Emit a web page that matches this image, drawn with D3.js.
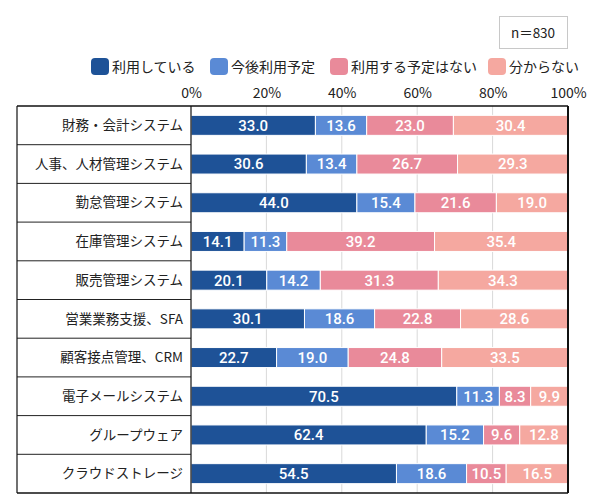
<!DOCTYPE html>
<html>
<head>
<meta charset="utf-8">
<script src="https://cdn.jsdelivr.net/npm/d3@7"></script>
<style>
  body { margin: 0; background: #fff; }
  svg { display: block; }
</style>
</head>
<body>
<svg id="chart"></svg>
<script>
// データ
const categories = ["財務・会計システム", "人事、人材管理システム", "勤怠管理システム", "在庫管理システム",
    "販売管理システム", "営業業務支援、SFA", "顧客接点管理、CRM", "電子メールシステム",
    "グループウェア", "クラウドストレージ"];
const seriesNames = ["利用している", "今後利用予定", "利用する予定はない", "分からない"];
const using = [33.0, 30.6, 44.0, 14.1, 20.1, 30.1, 22.7, 70.5, 62.4, 54.5];
const planned = [13.6, 13.4, 15.4, 11.3, 14.2, 18.6, 19.0, 11.3, 15.2, 18.6];
const noPlan = [23.0, 26.7, 21.6, 39.2, 31.3, 22.8, 24.8, 8.3, 9.6, 10.5];
const unknown = [30.4, 29.3, 19.0, 35.4, 34.3, 28.6, 33.5, 9.9, 12.8, 16.5];
const tickValues = [0, 20, 40, 60, 80, 100];
const colors = ["#1e5297", "#5a8ad5", "#e98a9a", "#f5a8a0"];

const width = 590, height = 501;
const labelLeft = 17;
const plotLeft = 191, plotRight = 568;
const plotTop = 106, plotBottom = 493;
const barH = 20;
const font = "'Noto Sans CJK JP', 'Noto Sans', sans-serif";

const svg = d3.select("#chart")
    .attr("width", width)
    .attr("height", height);

const x = d3.scaleLinear().domain([0, 100]).range([plotLeft, plotRight]);
const y = d3.scaleBand().domain(categories).range([plotTop, plotBottom]);

// 積み上げ用の行データ
const rows = categories.map((c, i) => ({
    cat: c,
    [seriesNames[0]]: using[i],
    [seriesNames[1]]: planned[i],
    [seriesNames[2]]: noPlan[i],
    [seriesNames[3]]: unknown[i]
}));
const stacked = d3.stack().keys(seriesNames)(rows);

// グリッド線
svg.append("g")
    .selectAll("line")
    .data(tickValues.filter(d => d > 0 && d < 100))
    .join("line")
    .attr("x1", d => x(d)).attr("x2", d => x(d))
    .attr("y1", plotTop).attr("y2", plotBottom)
    .attr("stroke", "#d9d9d9")
    .attr("stroke-width", 1);

// 上の目盛り
const axisTop = d3.axisTop(x)
    .tickValues(tickValues)
    .tickFormat(d => d + "%")
    .tickSize(0)
    .tickPadding(0);
svg.append("g")
    .attr("transform", `translate(0, ${plotTop - 5})`)
    .call(axisTop)
    .call(g => g.select(".domain").remove())
    .selectAll("text")
    .attr("dy", "-0.2em")
    .style("font-family", font)
    .style("font-size", "14px")
    .style("fill", "#222");

// 棒
const layer = svg.append("g")
    .selectAll("g")
    .data(stacked)
    .join("g")
    .attr("fill", (d, i) => colors[i]);

layer.selectAll("rect")
    .data(d => d)
    .join("rect")
    .attr("x", d => x(d[0]))
    .attr("y", d => y(d.data.cat) + (y.bandwidth() - barH) / 2)
    .attr("width", d => x(d[1]) - x(d[0]))
    .attr("height", barH)
    .attr("stroke", "#fff")
    .attr("stroke-width", 1);

layer.selectAll("text")
    .data(d => d)
    .join("text")
    .attr("x", d => (x(d[0]) + x(d[1])) / 2)
    .attr("y", d => y(d.data.cat) + y.bandwidth() / 2)
    .attr("dy", "0.36em")
    .attr("text-anchor", "middle")
    .style("font-family", "Roboto, sans-serif")
    .style("font-weight", 500)
    .style("font-size", "15px")
    .style("fill", "#fff")
    .text(d => (d[1] - d[0]).toFixed(1));

// 項目名の枠
svg.append("g")
    .selectAll("line")
    .data(categories.slice(1))
    .join("line")
    .attr("x1", labelLeft).attr("x2", plotLeft)
    .attr("y1", d => y(d)).attr("y2", d => y(d))
    .attr("stroke", "#222");

svg.append("g")
    .selectAll("text")
    .data(categories)
    .join("text")
    .attr("x", plotLeft - 8)
    .attr("y", d => y(d) + y.bandwidth() / 2)
    .attr("dy", "0.35em")
    .attr("text-anchor", "end")
    .style("font-family", font)
    .style("font-size", "13.5px")
    .style("fill", "#222")
    .text(d => d);

// 外枠
svg.append("line")
    .attr("x1", labelLeft).attr("x2", plotRight)
    .attr("y1", plotTop).attr("y2", plotTop)
    .attr("stroke", "#111").attr("stroke-width", 1.5);
svg.append("line")
    .attr("x1", labelLeft).attr("x2", plotRight)
    .attr("y1", plotBottom).attr("y2", plotBottom)
    .attr("stroke", "#111").attr("stroke-width", 1.5);
svg.append("line")
    .attr("x1", labelLeft).attr("x2", labelLeft)
    .attr("y1", plotTop).attr("y2", plotBottom)
    .attr("stroke", "#111").attr("stroke-width", 1.2);
svg.append("line")
    .attr("x1", plotLeft).attr("x2", plotLeft)
    .attr("y1", plotTop).attr("y2", plotBottom)
    .attr("stroke", "#111").attr("stroke-width", 1.2);
svg.append("line")
    .attr("x1", plotRight).attr("x2", plotRight)
    .attr("y1", plotTop).attr("y2", plotBottom)
    .attr("stroke", "#111").attr("stroke-width", 2);

// 凡例
const legendX = [91, 210, 330, 488];
const legend = svg.append("g")
    .selectAll("g")
    .data(seriesNames)
    .join("g")
    .attr("transform", (d, i) => `translate(${legendX[i]}, 58)`);
legend.append("rect")
    .attr("width", 18).attr("height", 17)
    .attr("rx", 4)
    .attr("fill", (d, i) => colors[i]);
legend.append("text")
    .attr("x", 21)
    .attr("y", 9)
    .attr("dy", "0.35em")
    .style("font-family", font)
    .style("font-size", "14px")
    .style("fill", "#222")
    .text(d => d);

// n表示
svg.append("rect")
    .attr("x", 499.5).attr("y", 16.5)
    .attr("width", 68).attr("height", 32)
    .attr("fill", "#fff")
    .attr("stroke", "#c8c8c8");
svg.append("text")
    .attr("x", 533).attr("y", 33)
    .attr("dy", "0.35em")
    .attr("text-anchor", "middle")
    .style("font-family", font)
    .style("font-size", "13.5px")
    .style("fill", "#222")
    .text("n＝830");
</script>
</body>
</html>
